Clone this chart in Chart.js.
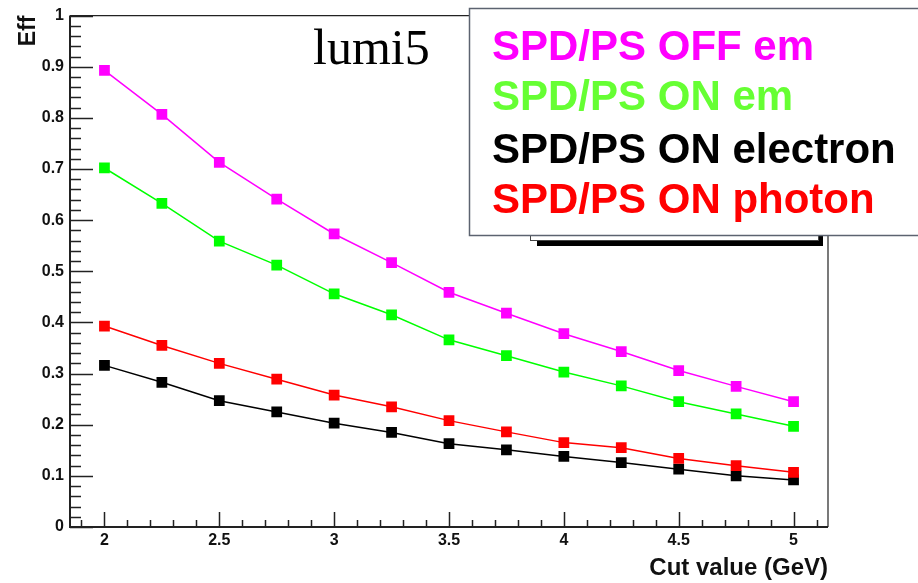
<!DOCTYPE html>
<html>
<head>
<meta charset="UTF-8">
<title>Eff vs cut value</title>
<script src="https://cdn.jsdelivr.net/npm/chart.js"></script>
<style>
  body { margin: 0; background: #fff; }
  canvas { display: block; }
</style>
</head>
<body>
<canvas id="effChart" width="918" height="583"></canvas>
<script>
  // cut values (GeV) and efficiency curves
  const cutValues = [2, 2.25, 2.5, 2.75, 3, 3.25, 3.5, 3.75, 4, 4.25, 4.5, 4.75, 5];
  const effOffEm = [0.893, 0.807, 0.713, 0.641, 0.573, 0.517, 0.459, 0.418, 0.378, 0.343, 0.306, 0.275, 0.245];
  const effOnEm = [0.702, 0.633, 0.559, 0.512, 0.456, 0.415, 0.366, 0.335, 0.303, 0.276, 0.245, 0.221, 0.197];
  const effOnElectron = [0.316, 0.283, 0.247, 0.225, 0.203, 0.185, 0.163, 0.151, 0.138, 0.126, 0.113, 0.100, 0.092];
  const effOnPhoton = [0.393, 0.355, 0.320, 0.289, 0.258, 0.235, 0.208, 0.186, 0.165, 0.155, 0.134, 0.120, 0.107];

  const seriesNames = ["SPD/PS OFF em", "SPD/PS ON em", "SPD/PS ON electron", "SPD/PS ON photon"];
  const xTicks = [2, 2.5, 3, 3.5, 4, 4.5, 5];
  const yTicks = [0, 0.1, 0.2, 0.3, 0.4, 0.5, 0.6, 0.7, 0.8, 0.9, 1];

  const FONT = "'Liberation Sans', Arial, sans-serif";

  function pts(ys) {
    return cutValues.map((x, i) => ({ x: x, y: ys[i] }));
  }

  function serie(label, ys, color, textColor, order) {
    return {
      label: label,
      data: pts(ys),
      borderColor: color,
      backgroundColor: color,
      pointBackgroundColor: color,
      pointBorderWidth: 0,
      pointStyle: "rect",
      pointRadius: 7.6,
      borderWidth: 1.5,
      tension: 0,
      order: order,
      textColor: textColor
    };
  }

  // ROOT style frame with inward ticks, plus the text boxes
  const rootFrame = {
    id: "rootFrame",
    afterDraw(chart) {
      const ctx = chart.ctx;
      const a = chart.chartArea;
      const xs = chart.scales.x, ys = chart.scales.y;
      ctx.save();

      // frame
      ctx.strokeStyle = "#222";
      ctx.lineWidth = 1.2;
      ctx.beginPath();
      ctx.moveTo(a.left, a.top); ctx.lineTo(a.right, a.top); ctx.lineTo(a.right, a.bottom);
      ctx.stroke();
      ctx.lineWidth = 2;
      ctx.beginPath();
      ctx.moveTo(a.left, a.top); ctx.lineTo(a.left, a.bottom); ctx.lineTo(a.right, a.bottom);
      ctx.stroke();

      // ticks
      ctx.lineWidth = 1.5;
      ctx.beginPath();
      for (let v = 0; v <= 1.0001; v += 0.02) {
        const py = Math.round(ys.getPixelForValue(v)) + 0.5;
        const major = Math.abs(v * 10 - Math.round(v * 10)) < 0.001;
        ctx.moveTo(a.left, py);
        ctx.lineTo(a.left + (major ? 23 : 11), py);
      }
      for (let v = 1.9; v <= 5.1001; v += 0.1) {
        const px = Math.round(xs.getPixelForValue(v)) + 0.5;
        const major = Math.abs(v * 2 - Math.round(v * 2)) < 0.001;
        ctx.moveTo(px, a.bottom);
        ctx.lineTo(px, a.bottom - (major ? 15 : 7));
      }
      ctx.stroke();

      // lumi label
      ctx.fillStyle = "#000";
      ctx.font = "50px 'Liberation Serif', 'Times New Roman', serif";
      ctx.textAlign = "left";
      ctx.textBaseline = "alphabetic";
      ctx.fillText("lumi5", 313, 64);

      // old legend box underneath, with its shadow
      ctx.fillStyle = "#000";
      ctx.fillRect(537, 200, 286, 46);
      ctx.fillStyle = "#fff";
      ctx.fillRect(530, 195, 288, 45);
      ctx.strokeStyle = "#444";
      ctx.lineWidth = 1;
      ctx.strokeRect(530.5, 195.5, 288, 45);

      // legend box
      ctx.fillStyle = "#fff";
      ctx.fillRect(469, 8, 460, 227);
      ctx.strokeStyle = "#5c6370";
      ctx.lineWidth = 1.5;
      ctx.strokeRect(469.5, 8.5, 460, 227);

      ctx.font = "bold 42px " + FONT;
      const baselines = [60, 110, 163, 213];
      chart.data.datasets.forEach((ds, i) => {
        ctx.fillStyle = ds.textColor;
        ctx.fillText(ds.label, 492, baselines[i]);
      });
      ctx.restore();
    }
  };

  new Chart(document.getElementById("effChart"), {
    type: "line",
    data: {
      datasets: [
        serie(seriesNames[0], effOffEm, "#ff00ff", "#ff00ff", 0),
        serie(seriesNames[1], effOnEm, "#00ff00", "#66ff33", 0),
        serie(seriesNames[2], effOnElectron, "#000000", "#000000", 1),
        serie(seriesNames[3], effOnPhoton, "#ff0000", "#ff0000", 0)
      ]
    },
    options: {
      responsive: false,
      animation: false,
      devicePixelRatio: 1,
      layout: { padding: { left: 0, top: 13, right: 90, bottom: 0 } },
      plugins: { legend: { display: false }, tooltip: { enabled: false } },
      scales: {
        x: {
          type: "linear",
          min: 1.85,
          max: 5.15,
          grid: { display: false, drawTicks: false },
          border: { display: false },
          afterBuildTicks: s => { s.ticks = xTicks.map(v => ({ value: v })); },
          afterFit: s => { s.height = 56; },
          ticks: {
            autoSkip: false,
            maxRotation: 0,
            padding: 4,
            color: "#111",
            font: { family: FONT, size: 16, weight: "bold" },
            callback: v => String(v)
          },
          title: {
            display: true,
            text: "Cut value (GeV)",
            align: "end",
            color: "#111",
            padding: { top: 0, bottom: 3 },
            font: { family: FONT, size: 24, weight: "bold", lineHeight: 1 }
          }
        },
        y: {
          type: "linear",
          min: 0,
          max: 1,
          grid: { display: false, drawTicks: false },
          border: { display: false },
          afterBuildTicks: s => { s.ticks = yTicks.map(v => ({ value: v })); },
          afterFit: s => { s.width = 70; },
          ticks: {
            autoSkip: false,
            padding: 6,
            color: "#111",
            font: { family: FONT, size: 16, weight: "bold" },
            callback: v => String(v)
          },
          title: {
            display: true,
            text: "Eff",
            align: "end",
            color: "#111",
            padding: { top: 17, bottom: 0 },
            font: { family: FONT, size: 23, weight: "bold", lineHeight: 1 }
          }
        }
      }
    },
    plugins: [rootFrame]
  });
</script>
</body>
</html>
